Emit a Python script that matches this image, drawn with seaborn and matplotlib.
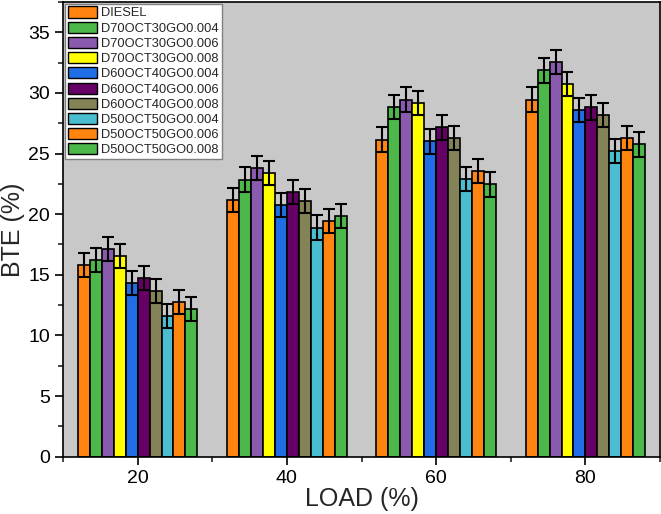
import matplotlib
matplotlib.use("Agg")
import matplotlib.pyplot as plt
from matplotlib.patches import Patch
from matplotlib.container import BarContainer
from matplotlib.ticker import MultipleLocator
import seaborn as sns
import pandas as pd
import numpy as np

loads = [20, 40, 60, 80]
fuels = ["DIESEL", "D70OCT30GO0.004", "D70OCT30GO0.006", "D70OCT30GO0.008",
         "D60OCT40GO0.004", "D60OCT40GO0.006", "D60OCT40GO0.008",
         "D50OCT50GO0.004", "D50OCT50GO0.006", "D50OCT50GO0.008"]
# BTE values per fuel, at loads 20, 40, 60, 80
bte_diesel = [15.8, 21.15, 26.15, 29.45]
bte_d70_004 = [16.25, 22.85, 28.85, 31.85]
bte_d70_006 = [17.1, 23.8, 29.45, 32.55]
bte_d70_008 = [16.55, 23.4, 29.15, 30.75]
bte_d60_004 = [14.3, 20.75, 26.0, 28.6]
bte_d60_006 = [14.75, 21.8, 27.15, 28.8]
bte_d60_008 = [13.65, 21.1, 26.3, 28.15]
bte_d50_004 = [11.6, 18.9, 22.9, 25.2]
bte_d50_006 = [12.75, 19.45, 23.55, 26.3]
bte_d50_008 = [12.15, 19.85, 22.45, 25.75]
errors = [1.0, 1.0, 1.0, 1.0]

colors = ["#FF8410", "#4CB849", "#8A5AAE", "#FFFF00", "#1F6EE6",
          "#660066", "#838357", "#4ABED0", "#FF8410", "#4CB849"]

series = [bte_diesel, bte_d70_004, bte_d70_006, bte_d70_008, bte_d60_004,
          bte_d60_006, bte_d60_008, bte_d50_004, bte_d50_006, bte_d50_008]

rows = []
for f, vals in zip(fuels, series):
    for l, v in zip(loads, vals):
        rows.append({"LOAD": l, "Fuel": f, "BTE": v})
df = pd.DataFrame(rows)

sns.set_theme(style="ticks")
plt.rcParams["font.family"] = ["Liberation Sans", "DejaVu Sans"]

fig = plt.figure(figsize=(6.61, 5.14), dpi=100)
ax = fig.add_axes([0.0953, 0.1115, 0.9032, 0.8847])
ax.set_facecolor("#C8C8C8")

sns.barplot(data=df, x="LOAD", y="BTE", hue="Fuel", hue_order=fuels,
            palette=colors, native_scale=True, errorbar=None,
            edgecolor="black", linewidth=1.2, width=0.8, ax=ax, legend=False,
            saturation=1)

bar_conts = [c for c in ax.containers if isinstance(c, BarContainer)]
for cont in bar_conts:
    bars = [b for b in cont if b is not None]
    xs = [b.get_x() + b.get_width() / 2 for b in bars]
    hs = [b.get_height() for b in bars]
    ax.errorbar(xs, hs, yerr=errors[:len(bars)], fmt="none", ecolor="black",
                elinewidth=1.5, capsize=4, capthick=1.5, zorder=5)

ax.set_xlim(10, 90)
ax.set_ylim(0, 37.5)
ax.xaxis.set_major_locator(MultipleLocator(20))
ax.xaxis.set_minor_locator(MultipleLocator(10))
ax.yaxis.set_major_locator(MultipleLocator(5))
ax.yaxis.set_minor_locator(MultipleLocator(2.5))
ax.tick_params(axis="both", which="major", direction="out", length=6,
               width=1.2, labelsize=14, colors="black")
ax.tick_params(axis="both", which="minor", direction="out", length=3.5,
               width=1.2)
for s in ax.spines.values():
    s.set_color("black")
    s.set_linewidth(1.2)

ax.set_xlabel("LOAD (%)", fontsize=18, labelpad=0)
ax.set_ylabel("BTE (%)", fontsize=18, labelpad=2)

handles = [Patch(facecolor=c, edgecolor="black", linewidth=1.0) for c in colors]
leg = ax.legend(handles, fuels, loc="upper left", fontsize=9.3,
                frameon=True, fancybox=False, framealpha=1,
                borderaxespad=0.15, borderpad=0.2, labelspacing=0.17,
                handlelength=2.25, handleheight=0.95, handletextpad=0.36)
leg.get_frame().set_edgecolor("#808080")
leg.get_frame().set_linewidth(1.0)

fig.savefig("out.png", dpi=100)
